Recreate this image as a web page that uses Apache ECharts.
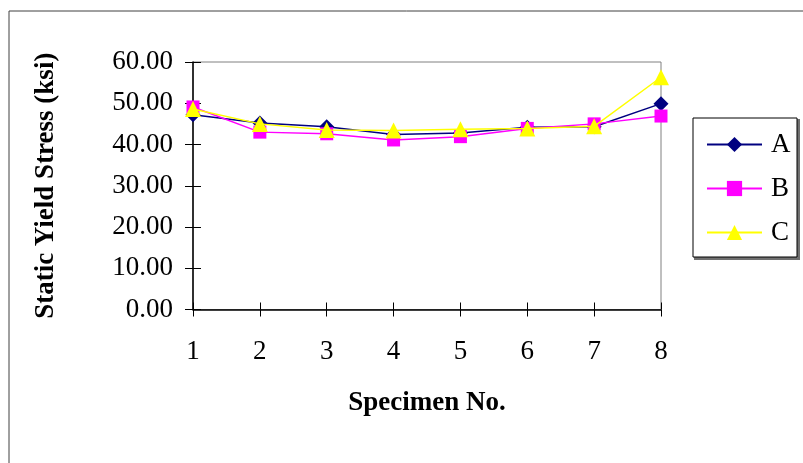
<!DOCTYPE html>
<html>
<head>
<meta charset="utf-8">
<script src="https://cdn.jsdelivr.net/npm/echarts@6/dist/echarts.min.js"></script>
<style>html,body{margin:0;padding:0;background:#fff}#c{width:803px;height:463px}</style>
</head>
<body>
<div id="c"></div>
<script>
var categories = ['1','2','3','4','5','6','7','8'];
var seriesA = [47.2, 45.2, 44.3, 42.4, 42.8, 44.2, 44.3, 49.9];
var seriesB = [49.1, 43.0, 42.6, 41.1, 41.9, 43.9, 45.0, 46.9];
var seriesC = [48.6, 45.0, 43.5, 43.4, 43.7, 43.9, 44.4, 56.3];
var yTicks = [0, 10, 20, 30, 40, 50, 60];

var serif = '"Liberation Serif","Times New Roman",serif';
var chart = echarts.init(document.getElementById('c'), null, {renderer:'canvas'});
chart.setOption({
  animation: false,
  backgroundColor: '#fff',
  graphic: [{
    type: 'rect', left: 6.5, top: 8.5, shape: {x: 0, y: 0, width: 900, height: 600},
    style: {fill: 'none', stroke: '#404040', lineWidth: 1}, silent: true, z: -10
  }, {
    type: 'rect', left: 694, top: 119, shape: {x: 0, y: 0, width: 106, height: 141},
    style: {fill: '#707070'}, silent: true, z: -5
  }, {
    type: 'rect', left: 692.5, top: 117.5, shape: {x: 0, y: 0, width: 104, height: 139},
    style: {fill: '#fff', stroke: '#000', lineWidth: 1}, silent: true, z: -4
  }],
  grid: {left: 193, top: 62, right: 142, bottom: 153.5, show: true, borderColor: '#808080', borderWidth: 1, backgroundColor: 'transparent'},
  legend: {
    orient: 'vertical', left: 692, top: 117,
    padding: [14, 6, 10, 14],
    itemWidth: 55, itemHeight: 19, itemGap: 17,
    textStyle: {fontFamily: serif, fontSize: 27, color: '#000', padding: [0,0,0,4]},
    data: ['A', 'B', 'C']
  },
  xAxis: [{
    type: 'category', data: categories, boundaryGap: false,
    name: 'Specimen No.', nameLocation: 'middle', nameGap: 80,
    nameTextStyle: {fontFamily: serif, fontSize: 27, fontWeight: 'bold', color: '#000'},
    axisLine: {lineStyle: {color: '#000', width: 1.5}},
    axisTick: {show: true, length: 7, alignWithLabel: true, lineStyle: {color: '#000'}},
    axisLabel: {fontFamily: serif, fontSize: 27, color: '#000', margin: 29},
    splitLine: {show: false}
  }, {
    type: 'category', data: categories, boundaryGap: false, position: 'bottom',
    axisLine: {show: false},
    axisTick: {show: true, inside: true, length: 7, lineStyle: {color: '#000'}},
    axisLabel: {show: false}, splitLine: {show: false}
  }],
  yAxis: [{
    type: 'value', min: 0, max: 60, interval: 10,
    name: 'Static Yield Stress (ksi)', nameLocation: 'middle', nameGap: 133,
    nameTextStyle: {fontFamily: serif, fontSize: 27, fontWeight: 'bold', color: '#000'},
    axisLine: {show: true, lineStyle: {color: '#000', width: 1.5}},
    axisTick: {show: true, length: 8, lineStyle: {color: '#000'}},
    axisLabel: {fontFamily: serif, fontSize: 27, color: '#000', margin: 20,
      formatter: function (v) { return yTicks.indexOf(v) >= 0 ? v.toFixed(2) : ''; }},
    splitLine: {show: false}
  }, {
    type: 'value', min: 0, max: 60, interval: 10, position: 'left', offset: 0,
    axisLine: {show: false},
    axisTick: {show: true, inside: true, length: 8, lineStyle: {color: '#000'}},
    axisLabel: {show: false}, splitLine: {show: false}
  }],
  series: [{
    name: 'A', type: 'line', data: seriesA, symbol: 'diamond', symbolSize: 15,
    lineStyle: {color: '#000080', width: 1.5}, itemStyle: {color: '#000080'}, z: 2
  }, {
    name: 'B', type: 'line', data: seriesB, symbol: 'rect', symbolSize: 13,
    lineStyle: {color: '#FF00FF', width: 1.5}, itemStyle: {color: '#FF00FF'}, z: 3
  }, {
    name: 'C', type: 'line', data: seriesC, symbol: 'triangle', symbolSize: 16,
    lineStyle: {color: '#FFFF00', width: 1.5}, itemStyle: {color: '#FFFF00'}, z: 4
  }]
});
</script>
</body>
</html>
